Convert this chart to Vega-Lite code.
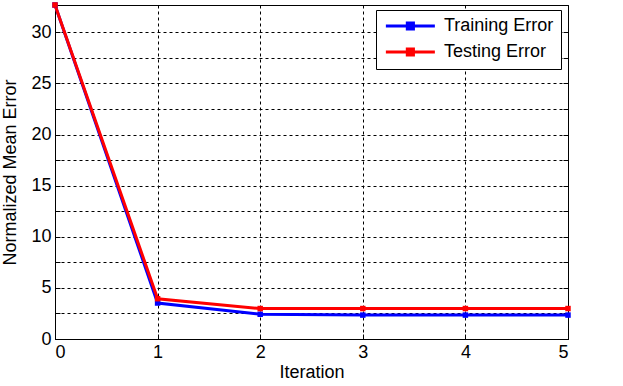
{
  "$schema": "https://vega.github.io/schema/vega-lite/v6.json",
  "width": 513,
  "height": 334,
  "autosize": "none",
  "padding": {"left": 55, "top": 5, "right": 55, "bottom": 47},
  "background": "white",
  "config": {
    "font": "Liberation Sans",
    "view": {"stroke": "black", "strokeWidth": 1},
    "axis": {
      "domainColor": "black",
      "tickColor": "black",
      "labelColor": "black",
      "titleColor": "black",
      "labelFont": "Liberation Sans",
      "titleFont": "Liberation Sans",
      "labelFontSize": 18,
      "titleFontSize": 18,
      "titleFontWeight": "normal",
      "gridColor": "black",
      "gridDash": [3, 3],
      "gridOpacity": 1,
      "gridWidth": 1
    }
  },
  "data": {
    "values": [
      {"iteration": 0, "series": "Training Error", "error": 32.68},
      {"iteration": 1, "series": "Training Error", "error": 3.52},
      {"iteration": 2, "series": "Training Error", "error": 2.42},
      {"iteration": 3, "series": "Training Error", "error": 2.34},
      {"iteration": 4, "series": "Training Error", "error": 2.34},
      {"iteration": 5, "series": "Training Error", "error": 2.34},
      {"iteration": 0, "series": "Testing Error", "error": 32.68},
      {"iteration": 1, "series": "Testing Error", "error": 3.94},
      {"iteration": 2, "series": "Testing Error", "error": 2.98},
      {"iteration": 3, "series": "Testing Error", "error": 2.98},
      {"iteration": 4, "series": "Testing Error", "error": 2.98},
      {"iteration": 5, "series": "Testing Error", "error": 2.98}
    ]
  },
  "encoding": {
    "x": {
      "field": "iteration",
      "type": "quantitative",
      "scale": {"domain": [0, 5], "nice": false},
      "axis": {
        "title": "Iteration",
        "values": [0, 1, 2, 3, 4, 5],
        "grid": true,
        "tickSize": -5,
        "labelPadding": 9,
        "titlePadding": 2
      }
    },
    "color": {
      "field": "series",
      "type": "nominal",
      "scale": {"domain": ["Training Error", "Testing Error"], "range": ["#0000ff", "#ff0000"]},
      "legend": {
        "title": null,
        "orient": "none",
        "legendX": 321,
        "legendY": 5,
        "strokeColor": "black",
        "fillColor": "white",
        "padding": 7,
        "symbolType": "M-1,0H7M2.5,-0.5H3.5V0.5H2.5Z",
        "symbolSize": 150,
        "symbolStrokeWidth": 3,
        "labelOffset": 43,
        "labelFontSize": 18,
        "labelColor": "black",
        "labelFont": "Liberation Sans",
        "rowPadding": 6
      }
    }
  },
  "layer": [
    {
      "mark": {"type": "line", "strokeWidth": 3},
      "encoding": {
        "y": {
          "field": "error",
          "type": "quantitative",
          "scale": {"domain": [0, 32.68], "nice": false, "zero": true},
          "axis": {
            "title": "Normalized Mean Error",
            "values": [0, 2.5, 5, 7.5, 10, 12.5, 15, 17.5, 20, 22.5, 25, 27.5, 30],
            "labelExpr": "datum.value % 5 === 0 ? datum.label : ''",
            "grid": true,
            "tickSize": -5,
            "labelPadding": 9,
            "titlePadding": 11
          }
        }
      }
    },
    {
      "mark": {"type": "point", "shape": "square", "filled": true, "size": 30, "opacity": 1},
      "encoding": {
        "y": {
          "field": "error",
          "type": "quantitative",
          "axis": {
            "orient": "right",
            "title": null,
            "values": [0, 2.5, 5, 7.5, 10, 12.5, 15, 17.5, 20, 22.5, 25, 27.5, 30],
            "labels": false,
            "grid": false,
            "tickSize": -5
          }
        }
      }
    }
  ],
  "resolve": {"axis": {"y": "independent"}}
}
